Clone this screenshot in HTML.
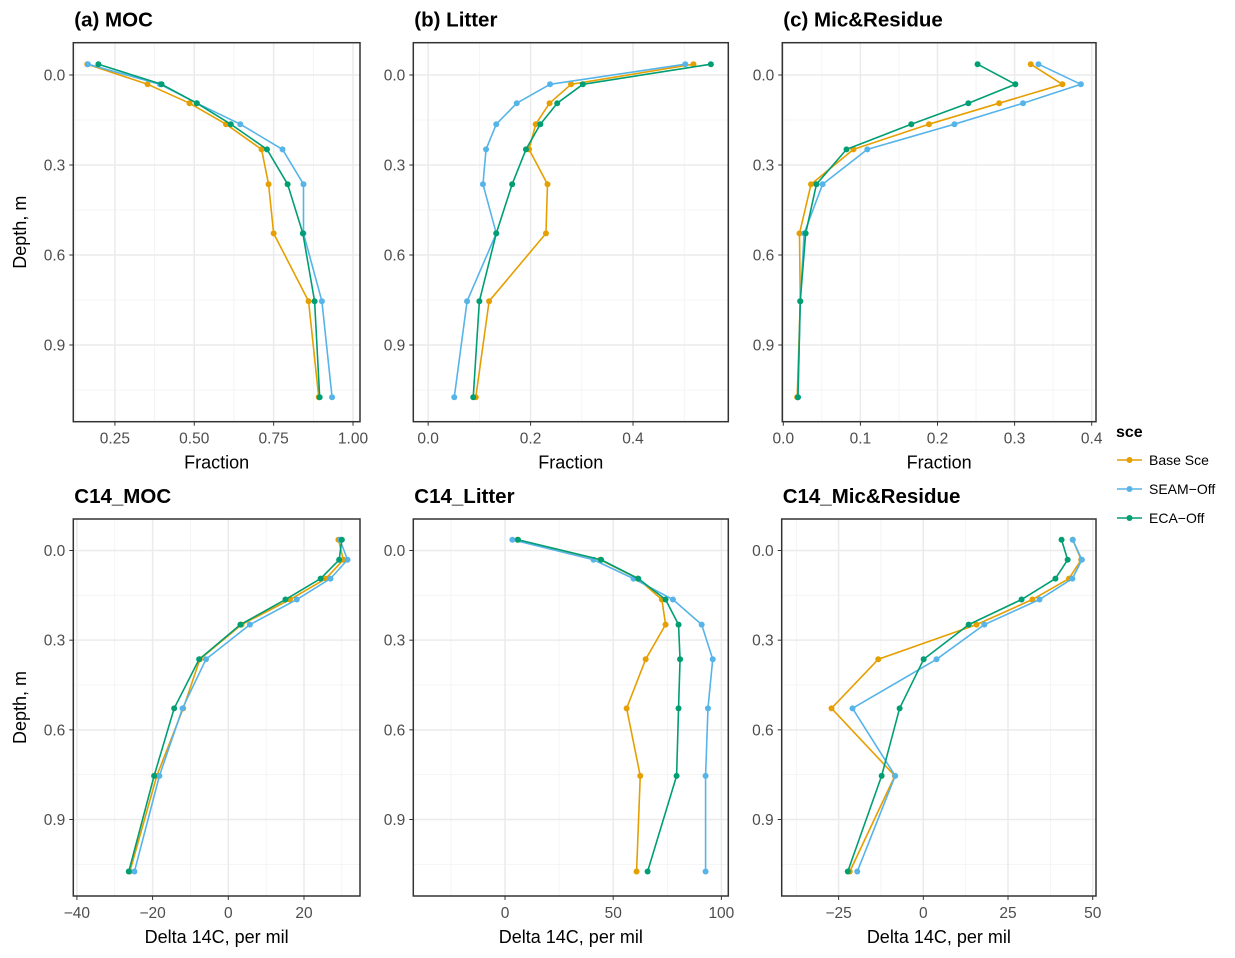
<!DOCTYPE html>
<html><head><meta charset="utf-8">
<style>
html,body{margin:0;padding:0;background:#fff;}
svg{display:block;font-family:"Liberation Sans",Arial,sans-serif;}
</style></head>
<body>
<svg id="chart" width="1235" height="958" viewBox="0 0 1235 958" xmlns="http://www.w3.org/2000/svg"></svg>
<script>
const depths = [-0.036, 0.031, 0.094, 0.164, 0.248, 0.364, 0.528, 0.754, 1.074];
const seriesNames = ["Base Sce", "SEAM\u2212Off", "ECA\u2212Off"];
const seriesColors = ["#E69F00", "#56B4E9", "#009E73"];
const yTicks = [0.0, 0.3, 0.6, 0.9];
const yTickLabels = ["0.0", "0.3", "0.6", "0.9"];

const mocBase = [0.163, 0.353, 0.485, 0.600, 0.712, 0.734, 0.750, 0.860, 0.892];
const mocSeam = [0.165, 0.392, 0.508, 0.645, 0.778, 0.844, 0.844, 0.902, 0.934];
const mocEca  = [0.198, 0.397, 0.508, 0.615, 0.729, 0.794, 0.842, 0.879, 0.895];

const litBase = [0.518, 0.279, 0.237, 0.210, 0.197, 0.233, 0.230, 0.119, 0.093];
const litSeam = [0.502, 0.238, 0.173, 0.133, 0.113, 0.107, 0.133, 0.076, 0.051];
const litEca  = [0.552, 0.302, 0.252, 0.219, 0.191, 0.164, 0.133, 0.100, 0.088];

const micBase = [0.321, 0.362, 0.280, 0.189, 0.091, 0.036, 0.021, 0.022, 0.018];
const micSeam = [0.331, 0.386, 0.311, 0.222, 0.109, 0.051, 0.027, 0.022, 0.019];
const micEca  = [0.252, 0.301, 0.240, 0.166, 0.082, 0.043, 0.029, 0.022, 0.019];

const c14MocBase = [29.1, 30.4, 25.8, 16.3, 3.5, -7.5, -11.9, -18.9, -26.0];
const c14MocSeam = [29.5, 31.5, 27.0, 18.1, 5.7, -5.9, -12.1, -18.2, -24.8];
const c14MocEca  = [30.0, 29.3, 24.4, 15.1, 3.2, -7.7, -14.3, -19.6, -26.3];

const c14LitBase = [5.7, 44.0, 61.3, 72.5, 74.2, 65.0, 56.2, 62.5, 60.8];
const c14LitSeam = [3.4, 40.9, 59.4, 77.6, 90.9, 96.0, 93.8, 92.7, 92.7];
const c14LitEca  = [6.0, 44.4, 61.6, 74.2, 80.2, 80.9, 80.2, 79.3, 65.9];

const c14MicBase = [44.1, 46.6, 43.0, 32.2, 15.7, -13.3, -27.1, -8.4, -21.7];
const c14MicSeam = [44.1, 46.8, 44.0, 34.3, 18.0, 3.9, -20.9, -8.3, -19.5];
const c14MicEca  = [40.8, 42.6, 39.0, 29.0, 13.4, 0.1, -7.0, -12.3, -22.3];

const ticksA = [0.25, 0.5, 0.75, 1.0], labelsA = ["0.25","0.50","0.75","1.00"];
const ticksB = [0.0, 0.2, 0.4], labelsB = ["0.0","0.2","0.4"];
const ticksC = [0.0, 0.1, 0.2, 0.3, 0.4], labelsC = ["0.0","0.1","0.2","0.3","0.4"];
const ticksD = [-40, -20, 0, 20], labelsD = ["\u221240","\u221220","0","20"];
const ticksE = [0, 50, 100], labelsE = ["0","50","100"];
const ticksF = [-25, 0, 25, 50], labelsF = ["\u221225","0","25","50"];

const svg = document.getElementById('chart');
const NS = "http://www.w3.org/2000/svg";
function mk(tag, attrs, parent) {
  const e = document.createElementNS(NS, tag);
  for (const k in attrs) e.setAttribute(k, attrs[k]);
  (parent || svg).appendChild(e);
  return e;
}

const panels = [
  {key:"moc", title:"(a) MOC", x0:73.3, x1:360, y0:42.7, y1:421.7, dmin:0.119, dmax:1.022, ticks:ticksA, labels:labelsA, xlab:"Fraction", series:[mocBase,mocSeam,mocEca], ylab:true, row:0},
  {key:"litter", title:"(b) Litter", x0:413.3, x1:728.3, y0:42.7, y1:421.7, dmin:-0.029, dmax:0.586, ticks:ticksB, labels:labelsB, xlab:"Fraction", series:[litBase,litSeam,litEca], ylab:false, row:0},
  {key:"mic", title:"(c) Mic&Residue", x0:782.3, x1:1096, y0:42.7, y1:421.7, dmin:-0.0013, dmax:0.4056, ticks:ticksC, labels:labelsC, xlab:"Fraction", series:[micBase,micSeam,micEca], ylab:false, row:0},
  {key:"c14-moc", title:"C14_MOC", x0:73.3, x1:360, y0:519, y1:896, dmin:-40.95, dmax:34.8, ticks:ticksD, labels:labelsD, xlab:"Delta 14C, per mil", series:[c14MocBase,c14MocSeam,c14MocEca], ylab:true, row:1},
  {key:"c14-litter", title:"C14_Litter", x0:413.3, x1:728.3, y0:519, y1:896, dmin:-42.4, dmax:103.2, ticks:ticksE, labels:labelsE, xlab:"Delta 14C, per mil", series:[c14LitBase,c14LitSeam,c14LitEca], ylab:false, row:1},
  {key:"c14-mic", title:"C14_Mic&Residue", x0:781.7, x1:1096, y0:519, y1:896, dmin:-41.8, dmax:50.97, ticks:ticksF, labels:labelsF, xlab:"Delta 14C, per mil", series:[c14MicBase,c14MicSeam,c14MicEca], ylab:false, row:1}
];

panels.forEach(p => {
  const g = mk('g', {});
  
  
  const yZero = p.row === 0 ? 75 : 550.5;
  const yPer = p.row === 0 ? 300 : 298.9;
  const ys = d => yZero + d * yPer;
  const xs = v => p.x0 + (v - p.dmin) / (p.dmax - p.dmin) * (p.x1 - p.x0);

  // minor grid
  for (let i = 0; i < yTicks.length; i++) {
    const m = yTicks[i] + 0.15;
    if (ys(m) < p.y1) mk('line', {x1:p.x0, x2:p.x1, y1:ys(m), y2:ys(m), stroke:"#f2f2f2", "stroke-width":0.8}, g);
  }
  const m0 = yTicks[0] - 0.15;
  if (ys(m0) > p.y0) mk('line', {x1:p.x0, x2:p.x1, y1:ys(m0), y2:ys(m0), stroke:"#f2f2f2", "stroke-width":0.8}, g);
  const step = p.ticks[1] - p.ticks[0];
  for (let v = p.ticks[0] - step/2; v <= p.ticks[p.ticks.length-1] + step; v += step) {
    const x = xs(v);
    if (x > p.x0 && x < p.x1) mk('line', {x1:x, x2:x, y1:p.y0, y2:p.y1, stroke:"#f2f2f2", "stroke-width":0.8}, g);
  }
  // major grid + y ticks
  yTicks.forEach((t, i) => {
    const y = ys(t);
    mk('line', {x1:p.x0, x2:p.x1, y1:y, y2:y, stroke:"#ebebeb", "stroke-width":1.5}, g);
    mk('line', {x1:p.x0-4, x2:p.x0, y1:y, y2:y, stroke:"#333", "stroke-width":1}, g);
    const tl = mk('text', {x:p.x0-8, y:y+5.5, "text-anchor":"end", "font-size":15.5, fill:"#4d4d4d"}, g);
    
    
    tl.textContent = yTickLabels[i];
  });
  p.ticks.forEach((t, i) => {
    const x = xs(t);
    mk('line', {x1:x, x2:x, y1:p.y0, y2:p.y1, stroke:"#ebebeb", "stroke-width":1.5}, g);
    mk('line', {x1:x, x2:x, y1:p.y1, y2:p.y1+4, stroke:"#333", "stroke-width":1}, g);
    const tl = mk('text', {x:x, y:p.y1+22, "text-anchor":"middle", "font-size":15.5, fill:"#4d4d4d"}, g);
    
    
    tl.textContent = p.labels[i];
  });
  // series
  p.series.forEach((vals, si) => {
    const sg = mk('g', {}, g);
    
    
    const pts = vals.map((v, i) => xs(v).toFixed(2) + ',' + ys(depths[i]).toFixed(2)).join(' ');
    const pl = mk('polyline', {points:pts, fill:"none", stroke:seriesColors[si], "stroke-width":1.6, "stroke-linejoin":"round"}, sg);
    
    
    vals.forEach((v, i) => {
      const c = mk('circle', {cx:xs(v), cy:ys(depths[i]), r:3, fill:seriesColors[si]}, sg);
      
      
    });
  });
  // border
  const b = mk('rect', {x:p.x0, y:p.y0, width:p.x1-p.x0, height:p.y1-p.y0, fill:"none", stroke:"#333", "stroke-width":1.5}, g);
  
  
  // title
  const t = mk('text', {x:p.x0+1, y:p.y0-16, "font-size":20.5, "font-weight":"bold", fill:"#000"}, g);
  
  
  t.textContent = p.title;
  // x label
  const xl = mk('text', {x:(p.x0+p.x1)/2, y:p.y1+47, "text-anchor":"middle", "font-size":18, fill:"#000"}, g);
  
  
  xl.textContent = p.xlab;
  if (p.ylab) {
    const cy = (p.y0 + p.y1) / 2;
    const yl = mk('text', {x:0, y:0, transform:`translate(26,${cy}) rotate(-90)`, "text-anchor":"middle", "font-size":18, fill:"#000"}, g);
    
    
    yl.textContent = "Depth, m";
  }
});

// legend
const lg = mk('g', {});


const lt = mk('text', {x:1116, y:437, "font-size":16, "font-weight":"bold", fill:"#000"}, lg);


lt.textContent = "sce";
seriesNames.forEach((n, i) => {
  const y = 460 + i * 29;
  const eg = mk('g', {}, lg);
  
  
  mk('line', {x1:1117, x2:1142, y1:y, y2:y, stroke:seriesColors[i], "stroke-width":1.6}, eg);
  mk('circle', {cx:1129.5, cy:y, r:3, fill:seriesColors[i]}, eg);
  const tx = mk('text', {x:1149, y:y+5, "font-size":14, fill:"#000"}, eg);
  tx.textContent = n;
});
</script>
</body></html>
